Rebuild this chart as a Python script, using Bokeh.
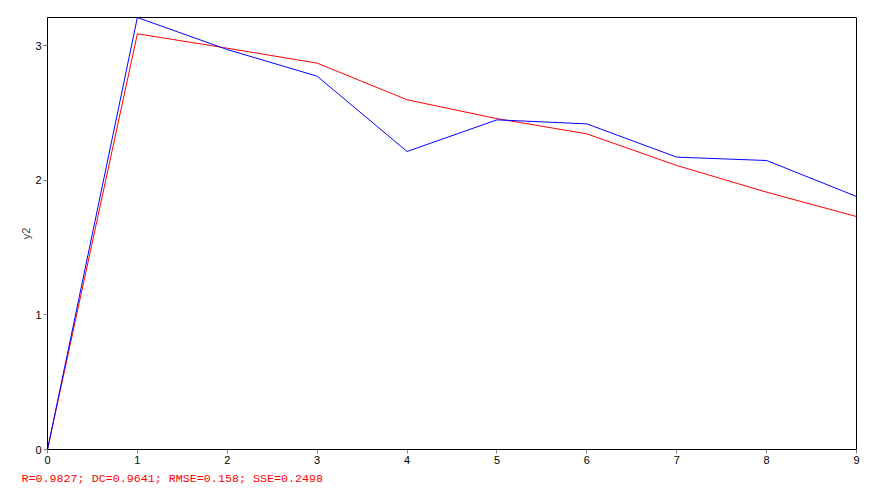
from bokeh.plotting import figure
from bokeh.models import Range1d, FixedTicker, Title
from bokeh.embed import file_html
from bokeh.resources import INLINE

x = [0, 1, 2, 3, 4, 5, 6, 7, 8, 9]
y_obs = [0.0, 3.208, 2.97, 2.772, 2.213, 2.448, 2.418, 2.171, 2.146, 1.879]
y_sim = [0.0, 3.087, 2.98, 2.869, 2.597, 2.457, 2.344, 2.109, 1.911, 1.730]
x_ticks = [0, 1, 2, 3, 4, 5, 6, 7, 8, 9]
y_ticks = [0, 1, 2, 3]
stats_text = "R=0.9827; DC=0.9641; RMSE=0.158; SSE=0.2498"
y_label = "y2"

p = figure(width=883, height=495, output_backend="svg", toolbar_location=None,
           x_range=Range1d(0, 9), y_range=Range1d(0, max(y_obs)),
           min_border_left=47, min_border_top=17, min_border_right=27, min_border_bottom=46)

p.line(x, y_sim, line_color="#ff0000", line_width=1)
p.line(x, y_obs, line_color="#0000ff", line_width=1)

p.grid.visible = False
p.outline_line_color = "black"
p.outline_line_width = 1
p.outline_line_alpha = 1

for ax in (p.xaxis[0], p.yaxis[0]):
    ax.axis_line_color = "black"
    ax.major_tick_line_color = "#808080"
    ax.major_tick_out = 4
    ax.major_tick_in = 0
    ax.minor_tick_line_color = None
    ax.major_label_text_font = "Liberation Sans"
    ax.major_label_text_font_size = "11px"
    ax.major_label_text_color = "black"
    ax.major_label_standoff = 2

p.xaxis[0].ticker = FixedTicker(ticks=x_ticks)
p.yaxis[0].ticker = FixedTicker(ticks=y_ticks)
p.yaxis[0].axis_label = y_label
p.yaxis[0].axis_label_text_font = "Liberation Sans"
p.yaxis[0].axis_label_text_font_size = "11px"
p.yaxis[0].axis_label_text_font_style = "normal"
p.yaxis[0].axis_label_standoff = 0

p.add_layout(Title(text=stats_text, align="left", offset=-26, standoff=6,
                   text_font="Liberation Mono", text_font_size="11.7px",
                   text_font_style="normal", text_color="#ff0000"), "below")

open("out.html", "w").write(file_html(p, INLINE))
